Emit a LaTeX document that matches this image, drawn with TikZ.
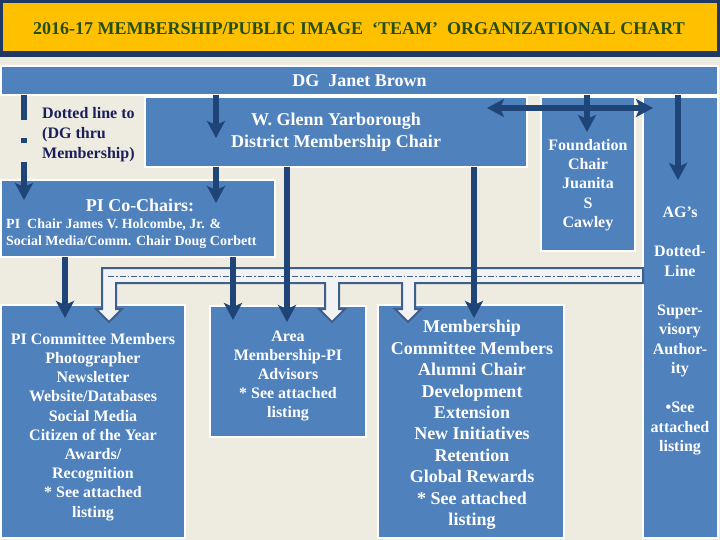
\documentclass[tikz,border=0pt]{standalone}
\usepackage{fontspec}
\setmainfont{Liberation Serif}
\usepackage{xcolor}
\usepackage{tikz}
\usetikzlibrary{arrows.meta,calc}
\definecolor{orgbg}{HTML}{EEECE1}
\definecolor{orgblue}{HTML}{4F81BD}
\definecolor{orgdark}{HTML}{1F4478}
\definecolor{orgnavy}{HTML}{1F3864}
\definecolor{orgyellow}{HTML}{FFC000}
\definecolor{orggreen}{HTML}{254E13}
\definecolor{orgink}{HTML}{1A1F5C}
\definecolor{orgsteel}{HTML}{3E5F8A}
\definecolor{orgpale}{HTML}{F2F2F2}
\tikzset{orgtip/.tip={Stealth[length=17pt,width=18pt,inset=4pt]}}

\begin{document}
\begin{tikzpicture}[x=1pt,y=-1pt,
    box/.style={fill=orgblue,draw=white,line width=1.5pt,inner sep=0pt,outer sep=0pt},
    wtxt/.style={text=white,align=center,inner sep=0pt},
    f14/.style={font=\bfseries\fontsize{14}{16.8}\selectfont},
    f16/.style={font=\bfseries\fontsize{16}{19.2}\selectfont},
    f18/.style={font=\bfseries\fontsize{18}{21.4}\selectfont},
    darrow/.style={draw=orgdark,line width=6pt,-orgtip}]
    \fill[orgbg] (0,0) rectangle (720,540);
    \useasboundingbox (0,0) rectangle (720,540);
    % title bar
    \node[fill=orgnavy,minimum width=720pt,minimum height=57pt,inner sep=0pt] (titleback) at (360,28.5) {};
    \node[fill=orgyellow,minimum width=714pt,minimum height=48pt,inner sep=0pt] (title) at (360,27) {};
    \node[text=orggreen,inner sep=0pt,font=\bfseries\fontsize{18}{21}\selectfont] (titletext) at (359,28.5) {2016-17 MEMBERSHIP/PUBLIC IMAGE\ \ ‘TEAM’\ \ ORGANIZATIONAL CHART};
    % boxes
    \node[box,wtxt,f18,minimum width=717pt,minimum height=29pt] (dg) at (359.5,80.5) {DG\ \ Janet Brown};
    \node[box,wtxt,f18,minimum width=382pt,minimum height=70pt] (glenn) at (336,132) {W. Glenn Yarborough\\District Membership Chair};
    \node[box,minimum width=274pt,minimum height=77pt] (pichairs) at (138,218.5) {};
    \node[box,minimum width=94pt,minimum height=154pt] (found) at (588,174) {};
    \node[box,minimum width=75pt,minimum height=441pt] (ag) at (680.5,317.5) {};
    \node[box,minimum width=184pt,minimum height=233pt] (picomm) at (93,421.5) {};
    \node[box,minimum width=156pt,minimum height=131pt] (area) at (288,371.5) {};
    \node[box,minimum width=186pt,minimum height=233pt] (memb) at (471,421.5) {};
    % texts
    \node[text=orgink,align=left,anchor=west,inner sep=0pt,font=\bfseries\fontsize{16}{20}\selectfont] (dotnote) at (42,135) {Dotted line to\\(DG thru\\Membership)};
    \node[wtxt,f18] (pihead) at (140,205) {PI Co-Chairs:};
    \node[wtxt,f14,align=left,anchor=west] (pinames) at (6,234) {PI\ \ Chair James V. Holcombe, Jr. \&\\Social Media/Comm. Chair Doug Corbett};
    \node[wtxt,f16] (foundtext) at (588,185) {Foundation\\Chair\\Juanita\\S\\Cawley};
    \node[wtxt,font=\bfseries\fontsize{16}{19.5}\selectfont] (agtext) at (680,331) {AG’s\\[19.5pt]Dotted-\\Line\\[19.5pt]Super-\\visory\\Author-\\ity\\[19.5pt]•See\\attached\\listing};
    \node[wtxt,f16] (picommtext) at (93,427) {PI Committee Members\\Photographer\\Newsletter\\Website/Databases\\Social Media\\Citizen of the Year\\Awards/\\Recognition\\* See attached\\listing};
    \node[wtxt,f16] (areatext) at (288,376) {Area\\Membership-PI\\Advisors\\* See attached\\listing};
    \node[wtxt,f18] (membtext) at (472,425) {Membership\\Committee Members\\Alumni Chair\\Development\\Extension\\New Initiatives\\Retention\\Global Rewards\\* See attached\\listing};
    % dotted-line band
    \filldraw[fill=orgpale,draw=orgsteel,line width=2pt,line join=miter] (102,268) -- (643,268) -- (643,283)
      -- (415,283) -- (415,309) -- (421,309) -- (408,322) -- (395,309) -- (402,309) -- (402,283)
      -- (339,283) -- (339,309) -- (345,309) -- (332,322) -- (319,309) -- (325,309) -- (325,283)
      -- (116,283) -- (116,309) -- (122,309) -- (109,322) -- (96,309) -- (102,309) -- cycle;
    \draw[orgsteel,line width=0.8pt,dash pattern=on 6pt off 2pt on 1.5pt off 2pt] (108,276) -- (640,276);
    % reporting arrows
    \draw[darrow] (dg.south -| 216,0) -- ($(glenn.north -| 216,0)+(0,41)$);
    \draw[darrow] (dg.south -| 587,0) -- ($(found.north -| 587,0)+(0,35)$);
    \draw[darrow] (dg.south -| 678,0) -- ($(ag.north -| 678,0)+(0,83)$);
    \draw[darrow,dash pattern=on 25pt off 18pt on 5pt off 19pt] (dg.south -| 24,0) -- ($(pichairs.north -| 24,0)+(0,20)$);
    \draw[darrow] (glenn.south -| 216,0) -- ($(pichairs.north -| 216,0)+(0,23)$);
    \draw[darrow] (glenn.south -| 287,0) -- ($(area.north -| 287,0)+(0,16)$);
    \draw[darrow] (glenn.south -| 474,0) -- ($(memb.north -| 474,0)+(0,13)$);
    \draw[darrow] (pichairs.south -| 65,0) -- ($(picomm.north -| 65,0)+(0,13)$);
    \draw[darrow] (pichairs.south -| 233,0) -- ($(area.north -| 233,0)+(0,14)$);
    \draw[darrow,orgtip-orgtip] ($(glenn.east |- 0,108)+(-40,0)$) -- ($(ag.west |- 0,108)+(10,0)$);
\end{tikzpicture}
\end{document}
